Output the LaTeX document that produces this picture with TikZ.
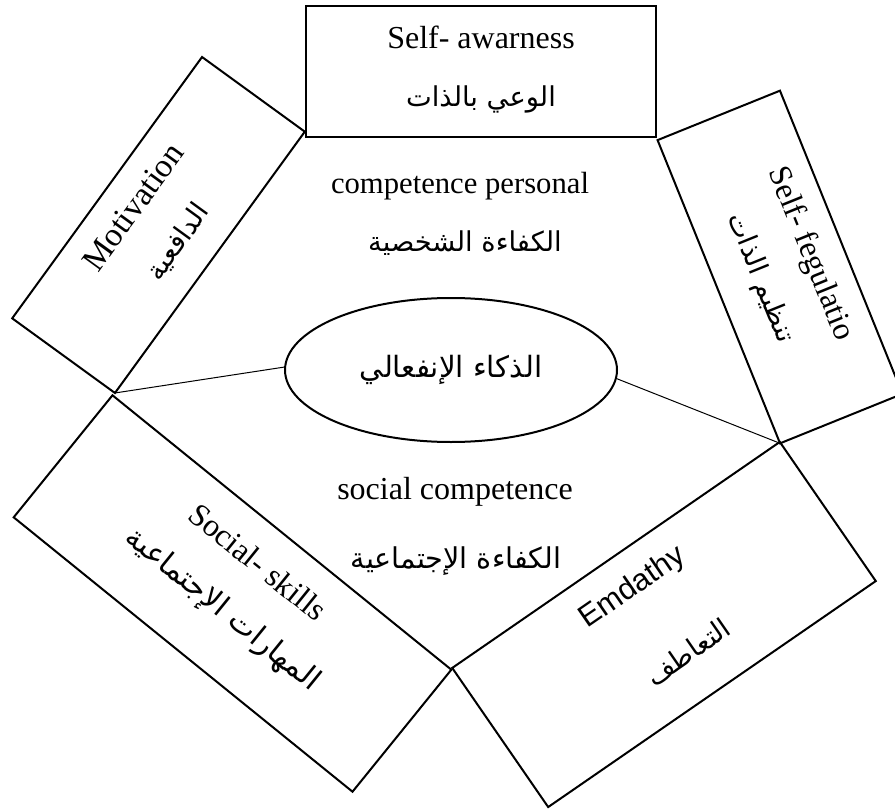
\documentclass[tikz,border=0pt]{standalone}
\usepackage{fontspec}
\setmainfont{Liberation Serif}
\newfontfamily\sansfnt{Liberation Sans}
\newfontfamily\arabicfont[Script=Arabic]{DejaVu Sans}
\TeXXeTstate=1
\usetikzlibrary{shapes.geometric}
\begin{document}
\begin{tikzpicture}[x=0.75pt,y=-0.75pt,
  boxshape/.style={draw, line width=1.5pt, rectangle, inner sep=0pt, outer sep=0pt},
  entext/.style={inner sep=0pt, font=\fontsize{24}{28}\selectfont},
  artext/.style={inner sep=0pt, font=\arabicfont\fontsize{20.5}{24}\selectfont},
  link/.style={draw, line width=0.75pt}]
\useasboundingbox (0,0) rectangle (895,809);
\clip (0,0) rectangle (895,809);
\fill[white] (0,0) rectangle (895,809);

% boxes
\node[boxshape, minimum width=262.5pt, minimum height=98.25pt] (aw) at (481,71.5) {};
\node[boxshape, minimum width=242.25pt, minimum height=95.25pt, rotate=54] (mot) at (158.5,225) {};
\node[boxshape, minimum width=245.25pt, minimum height=99pt, rotate=-68] (reg) at (780,267) {};
\node[boxshape, minimum width=327pt, minimum height=117.75pt, rotate=-39] (soc) at (232.5,593.5) {};
\node[boxshape, minimum width=298.5pt, minimum height=126.75pt, rotate=34.6] (emp) at (664,624.5) {};

% centre ellipse
\node[draw, line width=1.5pt, ellipse, inner sep=0pt, minimum width=249pt, minimum height=108pt,
  font=\arabicfont\fontsize{22}{26}\selectfont] (emo) at (451,370) {\beginR الذكاء الإنفعالي\endR};

% connectors
\draw[link] (mot.south west) -- (emo.179);
\draw[link] (emo.-3) -- (reg.south east);

% texts
\node[entext] (awE) at (481,37) {Self- awarness};
\node[artext] (awA) at (481,99) {\beginR الوعي بالذات\endR};
\node[entext, font=\fontsize{23}{27}\selectfont] (cpE) at (460,186) {competence personal};
\node[artext] (cpA) at (465,243) {\beginR الكفاءة الشخصية\endR};
\node[entext] (scE) at (455,492) {social competence};
\node[artext, font=\arabicfont\fontsize{21.5}{25}\selectfont] (scA) at (456,561) {\beginR الكفاءة الإجتماعية\endR};

\node[entext, font=\fontsize{25}{29}\selectfont, rotate=54] (motE) at (133,207) {Motivation};
\node[artext, rotate=54] (motA) at (178,242) {\beginR الدافعية\endR};

\node[entext, rotate=-68] (regE) at (810,254) {Self- fegulatio};
\node[artext, rotate=-68] (regA) at (760,278) {\beginR تنظيم الذات\endR};

\node[entext, rotate=-39] (socE) at (258,562) {Social- skills};
\node[artext, font=\arabicfont\fontsize{22.5}{26}\selectfont, rotate=-39] (socA) at (222,610) {\beginR المهارات الإجتماعية\endR};

\node[entext, font=\sansfnt\fontsize{23}{27}\selectfont, rotate=34.6] (empE) at (633,588) {Emdathy};
\node[artext, rotate=34.6] (empA) at (688,652) {\beginR التعاطف\endR};
\end{tikzpicture}
\end{document}
